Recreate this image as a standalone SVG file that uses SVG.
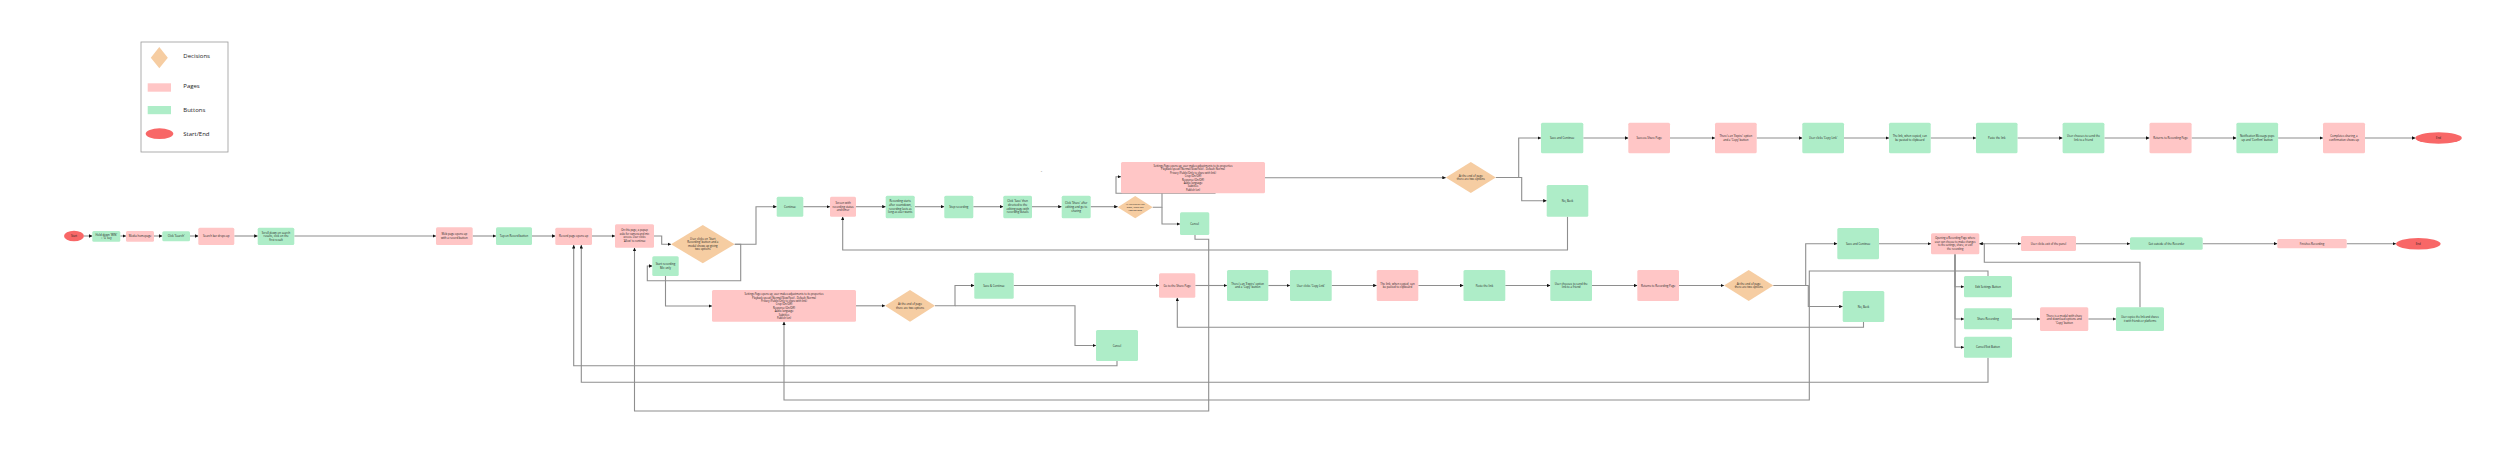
<svg xmlns="http://www.w3.org/2000/svg" width="2500" height="452" viewBox="0 0 2500 452">
<style>
.g{fill:#aeedc8}
.p{fill:#ffc6c6}
.d{fill:#f6cda2}
.s{fill:#f86767}
.c{fill:none;stroke:#8e8e8e;stroke-width:1.1;marker-end:url(#ah)}
.cn{fill:none;stroke:#8e8e8e;stroke-width:1.1}
.t{font-family:"Open Sans","Liberation Sans",sans-serif;font-size:2.8px;fill:#222;text-anchor:middle}
.ts{font-size:2.4px}
.tm{font-size:2.6px}
.lg{font-family:"Open Sans","Liberation Sans",sans-serif;font-size:6px;fill:#222}
</style>
<defs>
<marker id="ah" viewBox="0 0 6 6" refX="6" refY="3" markerWidth="3.5" markerHeight="3.5" markerUnits="userSpaceOnUse" orient="auto"><path d="M0,0L6,3L0,6z" fill="#111"/></marker>
</defs>
<rect width="2500" height="452" fill="#fff"/>

<g id="legend">
<rect x="141" y="42" width="87" height="110" fill="#fff" stroke="#999" stroke-width="0.8"/>
<polygon class="d" points="159.3,47 167.8,57.7 159.3,68.3 150.8,57.7"/>
<text class="lg" x="183.3" y="58">Decisions</text>
<rect class="p" x="147.7" y="83.3" width="23.3" height="8.4"/>
<text class="lg" x="183.3" y="87.7">Pages</text>
<rect class="g" x="147.7" y="106" width="23.3" height="8.2"/>
<text class="lg" x="183.3" y="112.3">Buttons</text>
<ellipse class="s" cx="159.5" cy="133.7" rx="13.8" ry="5.4"/>
<text class="lg" x="183.3" y="136">Start/End</text>
</g>

<g id="connectors">
<path class="c" d="M84,236H92.3"/>
<path class="c" d="M120.3,236H126"/>
<path class="c" d="M154,236H162.3"/>
<path class="c" d="M190,236H198.3"/>
<path class="c" d="M234.3,236H257.7"/>
<path class="c" d="M294.3,236H436"/>
<path class="c" d="M472.7,236H496"/>
<path class="c" d="M532,236H555.3"/>
<path class="c" d="M592,236H615"/>
<path class="c" d="M654,236H661.7V244.2H671"/>
<path class="c" d="M734.7,244.2H756V206.7H776.7"/>
<path class="c" d="M734.7,244.2H740.7V280.7H647.3V266H652.3"/>
<path class="c" d="M665.5,276V306H712"/>
<path class="c" d="M803.3,206.7H830"/>
<path class="c" d="M856,206.7H885.7"/>
<path class="c" d="M914.7,206.7H944.3"/>
<path class="c" d="M973.3,206.7H1003.3"/>
<path class="c" d="M1032,206.7H1061.7"/>
<path class="c" d="M1090.7,206.7H1117.7"/>
<path class="c" d="M1152.7,207.2H1162V193.3H1116V176.7H1121"/>
<path class="cn" d="M1211.5,178.3H1215V193.3H1162"/>
<path class="c" d="M1162,207.2V224H1180"/>
<path class="c" d="M1265,177.7H1445.8"/>
<path class="c" d="M1495.8,177.5H1518.7V138H1541"/>
<path class="c" d="M1518.7,177.5H1521.7V200.8H1546.7"/>
<path class="c" d="M1567.5,216.7V250H842.7V216.7"/>
<path class="c" d="M1583.3,138H1628.3"/>
<path class="c" d="M1670,138H1715"/>
<path class="c" d="M1756.7,138H1802.3"/>
<path class="c" d="M1844,138H1889"/>
<path class="c" d="M1930.7,138H1976"/>
<path class="c" d="M2017.5,138H2062.6"/>
<path class="c" d="M2104.4,138H2149.5"/>
<path class="c" d="M2191.6,138H2236.4"/>
<path class="c" d="M2278.1,138H2323"/>
<path class="c" d="M2365,138H2415.5"/>
<path class="c" d="M1195,235V239.3H1208.7V411H634.5V247.7"/>
<path class="c" d="M856,305.8H885"/>
<path class="c" d="M935,305.8H955V285.5H974.3"/>
<path class="c" d="M955,305.8H1075V345.5H1096"/>
<path class="c" d="M1117,361V365.7H573.7V245"/>
<path class="c" d="M1013.7,285.5H1159"/>
<path class="c" d="M1195.3,285.5H1227"/>
<path class="c" d="M1268.3,285.5H1290"/>
<path class="c" d="M1331.7,285.5H1376.7"/>
<path class="c" d="M1418.3,285.5H1463.5"/>
<path class="c" d="M1505.3,285.5H1550.3"/>
<path class="c" d="M1592,285.5H1637.3"/>
<path class="c" d="M1679,285.5H1724"/>
<path class="c" d="M1773.3,285.5H1805.7V243.7H1837.3"/>
<path class="c" d="M1805.7,285.5H1808.3V306.5H1842.7"/>
<path class="c" d="M1863.5,322V327.3H1177.3V297.7"/>
<path class="c" d="M1879,243.7H1931"/>
<path class="c" d="M1979.3,243.7H2021"/>
<path class="c" d="M2076,243.7H2130"/>
<path class="c" d="M2202.7,243.7H2277.3"/>
<path class="c" d="M2346.7,243.7H2396"/>
<path class="c" d="M1955,254.3V286.7H1964"/>
<path class="c" d="M1955,254.3V319H1964"/>
<path class="c" d="M1955,254.3V347.3H1964"/>
<path class="c" d="M2012,319H2040"/>
<path class="c" d="M2088.3,319H2116"/>
<path class="c" d="M2140,307.3V262.3H1984.3V243.7H1979.3"/>
<path class="c" d="M1988,276V271H1809.3V400H784V321.7"/>
<path class="c" d="M1988,357.7V382.3H581.3V245"/>
</g>

<g id="start"><ellipse class="s" cx="74" cy="236" rx="10" ry="5.3"/><text class="t" x="74" y="237.1">Start</text></g>
<g id="n1"><rect class="g" x="92.3" y="231" width="28" height="10.7" rx="1.5"/><text class="t" x="106.3" y="235.5">Hold down 'WIN'<tspan x="106.3" dy="3.6">+ 'G' key</tspan></text></g>
<g id="n2"><rect class="p" x="126" y="231" width="28" height="10.7" rx="1.5"/><text class="t" x="140" y="237.4">Media homepage</text></g>
<g id="n3"><rect class="g" x="162.3" y="231.3" width="27.7" height="10" rx="1.5"/><text class="t" x="176.2" y="237.4">Click 'Search'</text></g>
<g id="n4"><rect class="p" x="198.3" y="227.7" width="36" height="17.3" rx="1.5"/><text class="t" x="216.3" y="237.4">Search bar drops up</text></g>
<g id="n5"><rect class="g" x="257.7" y="227.7" width="36.6" height="17.3" rx="1.5"/><text class="t" x="276" y="233.6">Scroll down on search<tspan x="276" dy="3.6">results, click on the</tspan><tspan x="276" dy="3.6">first result</tspan></text></g>
<g id="n6"><rect class="p" x="436" y="227.3" width="36.7" height="17.7" rx="1.5"/><text class="t" x="454.3" y="235.4">Web page opens up<tspan x="454.3" dy="3.6">with a record button</tspan></text></g>
<g id="n7"><rect class="g" x="496" y="227.3" width="36" height="17.7" rx="1.5"/><text class="t" x="514" y="237.3">Tap on Record button</text></g>
<g id="n8"><rect class="p" x="555.3" y="227.7" width="36.7" height="17.3" rx="1.5"/><text class="t" x="573.7" y="237.4">Record page opens up</text></g>
<g id="n9"><rect class="p" x="615" y="224.3" width="39" height="23.4" rx="1.5"/><text class="t tm" x="634.5" y="231">On this page, a popup<tspan x="634.5" dy="3.6">asks for camera and mic</tspan><tspan x="634.5" dy="3.6">access. User clicks</tspan><tspan x="634.5" dy="3.6">'Allow' to continue</tspan></text></g>
<g id="d10"><polygon class="d" points="702.8,225 734.7,244.2 702.8,263.3 671,244.2"/><text class="t" x="702.8" y="239.6">User clicks on 'Start<tspan x="702.8" dy="3.6">Recording' button and a</tspan><tspan x="702.8" dy="3.6">modal shows up giving</tspan><tspan x="702.8" dy="3.6">two options</tspan></text></g>
<g id="n11"><rect class="g" x="776.7" y="196.7" width="26.6" height="20" rx="1.5"/><text class="t" x="790" y="207.8">Continue</text></g>
<g id="n12"><rect class="g" x="652.3" y="256.3" width="26.4" height="19.7" rx="1.5"/><text class="t" x="665.5" y="265.4">Start recording<tspan x="665.5" dy="3.6">Mic only</tspan></text></g>
<g id="n13"><rect class="p" x="712" y="290" width="144" height="31.7" rx="1.5"/><text class="t tm" x="784" y="295.2">Settings Page opens up, user makes adjustments to its properties<tspan x="784" dy="3.4">Playback speed (Normal/Slow/Fast) - Default: Normal</tspan><tspan x="784" dy="3.4">Privacy (Public/Only to share with link)</tspan><tspan x="784" dy="3.4">Crop (On/Off)</tspan><tspan x="784" dy="3.4">Response (On/Off)</tspan><tspan x="784" dy="3.4">Audio language</tspan><tspan x="784" dy="3.4">Subtitles</tspan><tspan x="784" dy="3.4">Publish (on)</tspan></text></g>
<g id="n16"><rect class="p" x="830" y="196.7" width="26" height="20" rx="1.5"/><text class="t" x="843" y="204">Screen with<tspan x="843" dy="3.6">recording status</tspan><tspan x="843" dy="3.6">and timer</tspan></text></g>
<g id="n17"><rect class="g" x="885.7" y="195.7" width="29" height="22.6" rx="1.5"/><text class="t" x="900.2" y="202.4">Recording starts<tspan x="900.2" dy="3.6">after countdown,</tspan><tspan x="900.2" dy="3.6">recording lasts as</tspan><tspan x="900.2" dy="3.6">long as user wants</tspan></text></g>
<g id="n18"><rect class="g" x="944.3" y="195.7" width="29" height="22.6" rx="1.5"/><text class="t" x="958.8" y="208.1">Stop recording</text></g>
<g id="n19"><rect class="g" x="1003.3" y="195.7" width="28.7" height="22.6" rx="1.5"/><text class="t" x="1017.7" y="202.4">Click 'Save' then<tspan x="1017.7" dy="3.6">directed to the</tspan><tspan x="1017.7" dy="3.6">editing page with</tspan><tspan x="1017.7" dy="3.6">recording details</tspan></text></g>
<g id="n20"><rect class="g" x="1061.7" y="195.7" width="29" height="22.6" rx="1.5"/><text class="t" x="1076.2" y="204.3">Click 'Share' after<tspan x="1076.2" dy="3.6">editing and go to</tspan><tspan x="1076.2" dy="3.6">sharing</tspan></text></g>
<g id="d21"><polygon class="d" points="1135.2,196 1152.7,207.2 1135.2,218.3 1117.7,207.2"/><text class="t ts" x="1135.2" y="204.7">At the end of the<tspan x="1135.2" dy="3">page, there are</tspan><tspan x="1135.2" dy="3">two options</tspan></text></g>
<g id="n22"><rect class="p" x="1121" y="162" width="144" height="31.3" rx="1.5"/><text class="t tm" x="1193" y="167">Settings Page opens up, user makes adjustments to its properties<tspan x="1193" dy="3.4">Playback speed (Normal/Slow/Fast) - Default: Normal</tspan><tspan x="1193" dy="3.4">Privacy (Public/Only to share with link)</tspan><tspan x="1193" dy="3.4">Crop (On/Off)</tspan><tspan x="1193" dy="3.4">Response (On/Off)</tspan><tspan x="1193" dy="3.4">Audio language</tspan><tspan x="1193" dy="3.4">Subtitles</tspan><tspan x="1193" dy="3.4">Publish (on)</tspan></text></g>
<g id="n23"><rect class="g" x="1180" y="212.3" width="29.3" height="22.7" rx="1.5"/><text class="t" x="1194.7" y="224.8">Cancel</text></g>
<g id="d29"><polygon class="d" points="1470.8,162 1495.8,177.5 1470.8,193 1445.8,177.5"/><text class="t" x="1470.8" y="176.7">At the end of page<tspan x="1470.8" dy="3.6">there are two options</tspan></text></g>
<g id="n31"><rect class="g" x="1541" y="122.7" width="42.3" height="30.6" rx="1.5"/><text class="t" x="1562.2" y="139.1">Save and Continue</text></g>
<g id="n32"><rect class="p" x="1628.3" y="122.7" width="41.7" height="30.6" rx="1.5"/><text class="t" x="1649.2" y="139.1">Success Share Page</text></g>
<g id="n33"><rect class="p" x="1715" y="122.7" width="41.7" height="30.6" rx="1.5"/><text class="t" x="1735.8" y="137.2">There's an 'Expire' option<tspan x="1735.8" dy="3.6">and a 'Copy' button</tspan></text></g>
<g id="n34"><rect class="g" x="1802.3" y="122.7" width="41.7" height="30.6" rx="1.5"/><text class="t" x="1823.2" y="139.1">User clicks 'Copy Link'</text></g>
<g id="n35"><rect class="g" x="1889" y="122.7" width="41.7" height="30.6" rx="1.5"/><text class="t" x="1909.8" y="137.2">The link, when copied, can<tspan x="1909.8" dy="3.6">be pasted to clipboard</tspan></text></g>
<g id="n37"><rect class="g" x="1976" y="122.7" width="41.5" height="30.6" rx="1.5"/><text class="t" x="1996.8" y="139.1">Paste the link</text></g>
<g id="n38"><rect class="g" x="2062.6" y="122.7" width="41.8" height="30.6" rx="1.5"/><text class="t" x="2083.5" y="137.2">User chooses to send the<tspan x="2083.5" dy="3.6">link to a friend</tspan></text></g>
<g id="n39"><rect class="p" x="2149.5" y="122.7" width="42.1" height="30.6" rx="1.5"/><text class="t" x="2170.5" y="139.1">Returns to Recording Page</text></g>
<g id="n40"><rect class="g" x="2236.4" y="122.7" width="41.7" height="30.6" rx="1.5"/><text class="t" x="2257.2" y="137.2">Notification Message pops<tspan x="2257.2" dy="3.6">up and 'Confirm' button</tspan></text></g>
<g id="n41"><rect class="p" x="2323" y="122.7" width="42" height="30.6" rx="1.5"/><text class="t" x="2344" y="137.2">Completes sharing, a<tspan x="2344" dy="3.6">confirmation shows up</tspan></text></g>
<g id="end1"><ellipse class="s" cx="2438.6" cy="138" rx="23.2" ry="5.8"/><text class="t" x="2438.6" y="139.1">End</text></g>
<g id="topNo"><rect class="g" x="1546.7" y="185" width="41.6" height="31.7" rx="1.5"/><text class="t" x="1567.5" y="201.9">No, Back</text></g>
<g id="d14"><polygon class="d" points="910,290 935,305.8 910,321.7 885,305.8"/><text class="t" x="910" y="305">At the end of page<tspan x="910" dy="3.6">there are two options</tspan></text></g>
<g id="n15"><rect class="g" x="974.3" y="272.7" width="39.4" height="26" rx="1.5"/><text class="t" x="994" y="286.8">Save &amp; Continue</text></g>
<g id="cancel2"><rect class="g" x="1096" y="330" width="42" height="31" rx="1.5"/><text class="t" x="1117" y="346.6">Cancel</text></g>
<g id="n24"><rect class="p" x="1159" y="273.3" width="36.3" height="24.4" rx="1.5"/><text class="t" x="1177.2" y="286.6">Go to the Share Page</text></g>
<g id="n25"><rect class="g" x="1227" y="270" width="41.3" height="31" rx="1.5"/><text class="t" x="1247.7" y="284.7">There's an 'Expire' option<tspan x="1247.7" dy="3.6">and a 'Copy' button</tspan></text></g>
<g id="n26"><rect class="g" x="1290" y="270" width="41.7" height="31" rx="1.5"/><text class="t" x="1310.8" y="286.6">User clicks 'Copy Link'</text></g>
<g id="n27"><rect class="p" x="1376.7" y="270" width="41.6" height="31" rx="1.5"/><text class="t" x="1397.5" y="284.7">The link, when copied, can<tspan x="1397.5" dy="3.6">be pasted to clipboard</tspan></text></g>
<g id="n28"><rect class="g" x="1463.5" y="270" width="41.8" height="31" rx="1.5"/><text class="t" x="1484.4" y="286.6">Paste the link</text></g>
<g id="n29"><rect class="g" x="1550.3" y="270" width="41.7" height="31" rx="1.5"/><text class="t" x="1571.2" y="284.7">User chooses to send the<tspan x="1571.2" dy="3.6">link to a friend</tspan></text></g>
<g id="n30"><rect class="p" x="1637.3" y="270" width="41.7" height="31" rx="1.5"/><text class="t" x="1658.2" y="286.6">Returns to Recording Page</text></g>
<g id="d42"><polygon class="d" points="1748.7,270 1773.3,285.5 1748.7,301 1724,285.5"/><text class="t" x="1748.7" y="284.7">At the end of page<tspan x="1748.7" dy="3.6">there are two options</tspan></text></g>
<g id="n36"><rect class="g" x="1837.3" y="228" width="41.7" height="31.3" rx="1.5"/><text class="t" x="1858.2" y="244.8">Save and Continue</text></g>
<g id="botNo"><rect class="g" x="1842.7" y="291" width="41.6" height="31" rx="1.5"/><text class="t" x="1863.5" y="307.6">No, Back</text></g>
<g id="n43"><rect class="p" x="1931" y="233.3" width="48.3" height="21" rx="1.5"/><text class="t tm" x="1955.2" y="239.4">Opening a Recording Page where<tspan x="1955.2" dy="3.4">user can choose to make changes</tspan><tspan x="1955.2" dy="3.4">to the settings, share, or exit</tspan><tspan x="1955.2" dy="3.4">the recording</tspan></text></g>
<g id="n46"><rect class="g" x="1964" y="276" width="48" height="21.3" rx="1.5"/><text class="t" x="1988" y="287.8">Edit Settings Button</text></g>
<g id="n47"><rect class="g" x="1964" y="308.3" width="48" height="21" rx="1.5"/><text class="t" x="1988" y="319.9">Share Recording</text></g>
<g id="n48"><rect class="g" x="1964" y="336.7" width="48" height="21" rx="1.5"/><text class="t" x="1988" y="348.3">Cancel/Exit Button</text></g>
<g id="n49"><rect class="p" x="2040" y="307.3" width="48.3" height="23.7" rx="1.5"/><text class="t" x="2064.2" y="316.5">There is a modal with share<tspan x="2064.2" dy="3.6">and download options and</tspan><tspan x="2064.2" dy="3.6">'Copy' button</tspan></text></g>
<g id="n45"><rect class="g" x="2116" y="307.3" width="48" height="23.7" rx="1.5"/><text class="t tm" x="2140" y="318.4">User copies the link and shares<tspan x="2140" dy="3.4">it with friends or platforms</tspan></text></g>
<g id="n44"><rect class="p" x="2021" y="236" width="55" height="15" rx="1.5"/><text class="t" x="2048.5" y="244.6">User clicks exit of the panel</text></g>
<g id="n50"><rect class="g" x="2130" y="237.3" width="72.7" height="12.4" rx="1.5"/><text class="t" x="2166.4" y="244.6">Get outside of the Recorder</text></g>
<g id="n51"><rect class="p" x="2277.3" y="239" width="69.4" height="9.3" rx="1.5"/><text class="t" x="2312" y="244.7">Finishes Recording</text></g>
<g id="end2"><ellipse class="s" cx="2418.3" cy="243.8" rx="22.3" ry="5.8"/><text class="t" x="2418.3" y="244.9">End</text></g>
<text class="t" x="1041.5" y="172">–</text>
</svg>
